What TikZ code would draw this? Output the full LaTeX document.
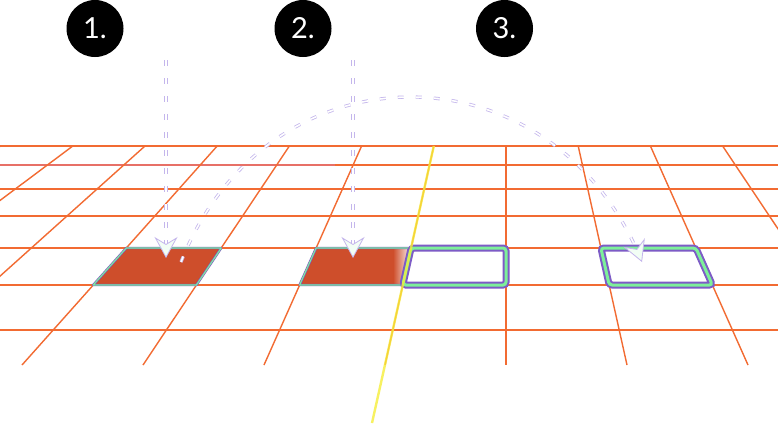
\documentclass[tikz,border=0pt]{standalone}
\usepackage{fontspec}
\setmainfont{Lato}
\usetikzlibrary{arrows.meta,calc}
\definecolor{gridc}{HTML}{F26B32}
\definecolor{redc}{HTML}{CE4E2B}
\definecolor{purp}{HTML}{7D5BC6}
\definecolor{greenc}{HTML}{7DF09A}
\definecolor{lav}{HTML}{C4B6EC}
\definecolor{yell}{HTML}{F6EE3A}
\definecolor{pinkl}{HTML}{DE7592}
\begin{document}
\begin{tikzpicture}[x=1pt,y=-1pt,
  gridline/.style={draw=gridc, line width=1.4pt},
  badge/.style={circle, fill=black, minimum size=57pt, inner sep=0pt, text=white, font=\fontsize{29}{29}\selectfont},
  flow/.style={draw=lav, line width=0.8pt, double=white, double distance=1.6pt, dash pattern=on 6pt off 12pt},
  tipstyle/.style={draw=lav, line width=0.8pt, -{Stealth[length=21pt,width=23pt,inset=7pt,fill=white!90!greenc,color=lav,line width=0.8pt]}},
  thinedge/.style={line join=round},
]
\useasboundingbox (0,0) rectangle (778,431);
\fill[white] (0,0) rectangle (778,431);

% horizontal grid lines
\foreach \y in {146,165,189,216,248,285,330} \draw[gridline] (0,\y) -- (778,\y);
\draw[pinkl!55!gridc, line width=1.4pt] (0,165) -- (335,165);
% perspective grid lines
\begin{scope}
  \clip (0,145) rectangle (778,365);
  \foreach \k in {-7,...,3} \draw[gridline] ({506+72.2*\k},146) -- ({506+121*\k},365);
\end{scope}

% cell corners
\coordinate (c1a) at (126.3,248); \coordinate (c1b) at (221.2,248);
\coordinate (c1c) at (196.4,285); \coordinate (c1d) at (93.2,285);
\coordinate (c2a) at (316.1,248); \coordinate (c2b) at (411.1,248);
\coordinate (c2c) at (402.8,285); \coordinate (c2d) at (299.6,285);
\coordinate (h2a) at (506,248);   \coordinate (h2b) at (506,285);
\coordinate (c3a) at (600.9,248); \coordinate (c3b) at (695.9,248);
\coordinate (c3c) at (712.4,285); \coordinate (c3d) at (609.2,285);

% cell 1
\fill[redc] (c1a) -- (c1b) -- (c1c) -- (c1d) -- cycle;
\draw[purp, line width=2.4pt, thinedge] (c1a) -- (c1b) -- (c1c) -- (c1d) -- cycle;
\draw[greenc, line width=1.1pt, thinedge] (c1a) -- (c1b) -- (c1c) -- (c1d) -- cycle;

% cell 2 (fading)
\begin{scope}
  \clip (c2a) -- (c2b) -- (c2c) -- (c2d) -- cycle;
  \fill[redc] (290,240) rectangle (393,290);
  \shade[left color=redc, right color=white] (393,240) rectangle (412,290);
\end{scope}
\draw[purp, line width=2.4pt, thinedge] (c2a) -- (c2b) -- (c2c) -- (c2d) -- cycle;
\draw[greenc, line width=1.1pt, thinedge] (c2a) -- (c2b) -- (c2c) -- (c2d) -- cycle;

% hollow boxes
\draw[purp, line width=7pt, rounded corners=3pt] (c2b) -- (h2a) -- (h2b) -- (c2c) -- cycle;
\draw[greenc, line width=3pt, rounded corners=3pt] (c2b) -- (h2a) -- (h2b) -- (c2c) -- cycle;
\draw[purp, line width=7pt, rounded corners=3pt] (c3a) -- (c3b) -- (c3c) -- (c3d) -- cycle;
\draw[greenc, line width=3pt, rounded corners=3pt] (c3a) -- (c3b) -- (c3c) -- (c3d) -- cycle;

% yellow line
\coordinate (y1) at (433.8,146); \coordinate (y2) at (372,423);
\draw[yell, line width=2.4pt, opacity=0.8] (y1) -- (y2);

% badges
\node[badge] (b1) at (95,28.5) {1.};
\node[badge] (b2) at (303,28.5) {2.};
\node[badge] (b3) at (504.5,28.5) {3.};

% arrows
\coordinate (a1s) at (166,60);  \coordinate (a1e) at (166,258);
\coordinate (a2s) at (353,60);  \coordinate (a2e) at (353,258);
\coordinate (a3s) at (181,262); \coordinate (a3e) at (642,262);
\coordinate (k1) at (268,42);   \coordinate (k2) at (553,42);
\draw[flow] (a1s) -- ($(a1e)+(0,-14)$);
\draw[flow] (a2s) -- ($(a2e)+(0,-14)$);
\draw[flow] (a3s) .. controls (k1) and (k2) .. (a3e);
\draw[tipstyle] ($(a1e)+(0,-1)$) -- (a1e);
\draw[tipstyle] ($(a2e)+(0,-1)$) -- (a2e);
\draw[tipstyle] ($(a3e)!1pt!(k2)$) -- (a3e);
\end{tikzpicture}
\end{document}
